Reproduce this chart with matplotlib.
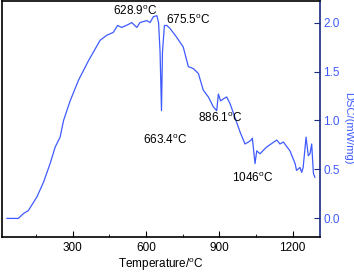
import numpy as np
from matplotlib import pyplot as plt
from matplotlib.ticker import MultipleLocator

plt.rcParams['font.family'] = ['Liberation Sans', 'DejaVu Sans']
plt.rcParams['mathtext.fontset'] = 'custom'
plt.rcParams['mathtext.rm'] = 'Liberation Sans'

# temperature (C) and DSC signal (mW/mg)
temp = [30, 77, 98, 118, 153, 180, 207, 228, 248, 262, 289, 323, 364, 412, 439, 466,
        483, 500, 527, 541, 562, 575, 603, 616, 630, 644, 651, 657, 663, 667, 675, 685,
        698, 725, 752, 773, 793, 814, 834, 855, 875, 889, 896, 905, 916, 930, 944,
        964, 985, 1005, 1019, 1030, 1035, 1046, 1053, 1066, 1094, 1135, 1148, 1162,
        1189, 1210, 1216, 1230, 1237, 1243, 1255, 1264, 1271, 1278, 1285, 1291]
dsc = [0.0, 0.0, 0.05, 0.08, 0.22, 0.37, 0.56, 0.73, 0.83, 1.0, 1.20, 1.41, 1.61, 1.82,
       1.87, 1.90, 1.97, 1.95, 1.98, 2.0, 1.95, 2.0, 2.02, 2.0, 2.06, 2.07, 2.0, 1.71,
       1.1, 1.7, 1.97, 1.97, 1.94, 1.85, 1.75, 1.55, 1.53, 1.48, 1.31, 1.24, 1.14, 1.10,
       1.27, 1.20, 1.22, 1.24, 1.17, 1.03, 0.88, 0.76, 0.78, 0.80, 0.82, 0.56, 0.69,
       0.66, 0.73, 0.80, 0.76, 0.78, 0.69, 0.56, 0.49, 0.52, 0.47, 0.52, 0.83, 0.64,
       0.66, 0.76, 0.46, 0.42]

peak_labels = ['628.9', '675.5', '663.4', '886.1', '1046']
peak_x = [555, 772, 678, 903, 1035]
peak_y = [2.12, 2.02, 0.80, 1.02, 0.41]

blue = '#3f5bff'
navy = '#1a2a80'

fig = plt.figure(figsize=(3.54, 2.72), dpi=100)
ax = fig.add_axes([2/354, 1 - 237/272, 318/354, 236/272])
ax.plot(temp, dsc, color=blue, lw=0.9)

ax.set_xlim(10, 1312)
ax.set_ylim(-0.19, 2.22)

ax.xaxis.set_minor_locator(MultipleLocator(150))
ax.set_xticks([300, 600, 900, 1200])
ax.yaxis.tick_right()
ax.yaxis.set_label_position('right')
ax.set_yticks([0.0, 0.5, 1.0, 1.5, 2.0])
ax.tick_params(axis='x', which='both', direction='in', labelsize=8.5, top=False)
ax.tick_params(axis='x', which='major', length=4)
ax.tick_params(axis='x', which='minor', length=2.5)
ax.tick_params(axis='y', direction='in', length=4, labelsize=8.5, pad=2.5,
               colors=navy, labelcolor=blue, left=False, right=True)
ax.spines['right'].set_color(navy)
ax.spines['right'].set_linewidth(1.2)
for s in ['left', 'top', 'bottom']:
    ax.spines[s].set_linewidth(1.2)

ax.set_xlabel(r'Temperature/$^{\rm o}$C', fontsize=8.5, labelpad=2)
ax.set_ylabel('DSC/(mW/mg)', fontsize=8, color=blue, rotation=270, va='center')
ax.yaxis.set_label_coords(1.09, 0.46)

for lab, x, y in zip(peak_labels, peak_x, peak_y):
    ax.text(x, y, lab + r'$^{\rm o}$C', fontsize=8.5, ha='center', va='center')

fig.savefig('out.png', dpi=100)
